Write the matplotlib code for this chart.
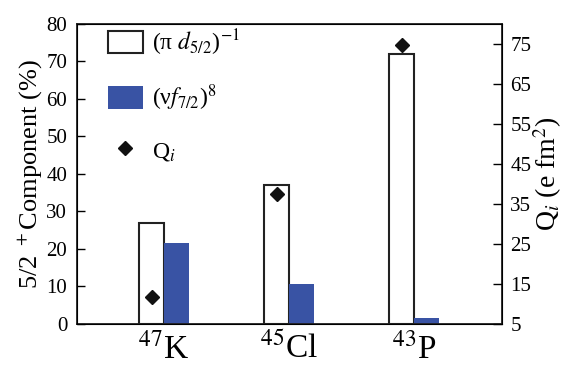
import numpy as np
import matplotlib
matplotlib.use('Agg')
import matplotlib.pyplot as plt
from matplotlib.patches import Patch
from matplotlib.lines import Line2D

# data
nuclei = ['$^{47}$K', '$^{45}$Cl', '$^{43}$P']
pi_d52 = [27, 37, 72]        # (pi d5/2)^-1 component, %
nu_f72 = [21.7, 10.6, 1.7]   # (nu f7/2)^8 component, %
q_i = [11.7, 37.5, 74.7]     # Q_i, e fm^2

plt.rcParams['font.family'] = ['Liberation Serif', 'DejaVu Serif']
plt.rcParams['mathtext.fontset'] = 'stix'

fig = plt.figure(figsize=(5.63, 3.69), dpi=100)
ax = fig.add_axes([0.1368, 0.122, 0.755, 0.813])

x = np.arange(len(nuclei))
w = 0.2
blue = '#3953a4'

ax.bar(x - w / 2, pi_d52, width=w, facecolor='white', edgecolor='#222222', linewidth=1.5)
ax.bar(x + w / 2, nu_f72, width=w, facecolor=blue, edgecolor='none')

ax.set_xlim(-0.696, 2.704)
ax.set_ylim(0, 80)
ax.set_yticks(range(0, 81, 10))
ax.set_xticks(x)
ax.set_xticklabels(nuclei, fontsize=24)
ax.tick_params(axis='x', length=0, pad=6)
ax.tick_params(axis='y', direction='in', length=6, width=1, labelsize=15, pad=7)
ax.set_ylabel('5/2 $^+$Component (%)', fontsize=19, labelpad=2)
for s in ax.spines.values():
    s.set_linewidth(1.3)
    s.set_color('#222222')

ax2 = ax.twinx()
ax2.plot(x - w / 2, q_i, linestyle='none', marker='D', markersize=7, color='#111111')
ax2.set_ylim(5, 80)
ax2.set_yticks(range(5, 76, 10))
ax2.tick_params(axis='y', direction='in', length=6.5, width=1, labelsize=15, pad=6)
ax2.set_ylabel('Q$_i$ (e fm$^2$)', fontsize=20, labelpad=0)

handles = [
    Patch(facecolor='white', edgecolor='#222222', linewidth=1.5),
    Patch(facecolor=blue, edgecolor='none'),
    Line2D([], [], linestyle='none', marker='D', markersize=7, color='#111111'),
]
labels = ['(π $d_{5/2}$)$^{-1}$', '(ν$f_{7/2}$)$^8$', 'Q$_i$']
ax2.legend(handles, labels, loc='upper left', bbox_to_anchor=(0.022, 1.06),
           frameon=False, fontsize=17, handlelength=1.5, handleheight=1.1,
           labelspacing=1.05, handletextpad=0.4)

fig.savefig('out.png', dpi=100)
